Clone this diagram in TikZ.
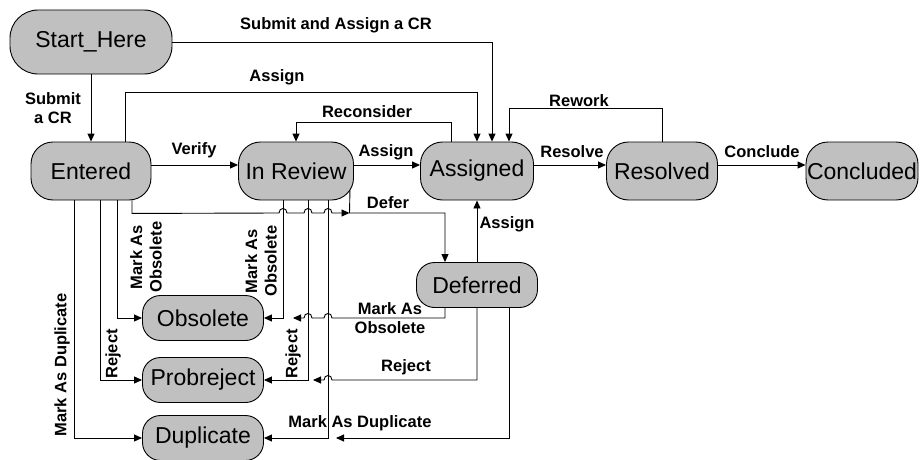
\documentclass[tikz,border=0pt]{standalone}
\usepackage{fontspec}
\setmainfont{Liberation Sans}
\usetikzlibrary{arrows.meta}
\definecolor{stategray}{RGB}{192,192,192}
% line jump over a crossing vertical line at (#1,#2), half width #3
\newcommand{\hop}[3]{-- ({#1-(#3)},#2) .. controls ({#1-(#3)},{#2-6}) and ({#1+(#3)},{#2-6}) .. ({#1+(#3)},#2)}
\begin{document}
\begin{tikzpicture}[x=1pt, y=-1pt, line width=0.9pt,
  >={Triangle[length=8pt,width=7pt]},
  state/.style={draw, fill=stategray, rounded corners=22pt, minimum height=58pt,
    inner sep=1pt, font=\fontsize{23}{27}\selectfont},
  small state/.style={state, rounded corners=18pt, minimum height=45pt, minimum width=121pt},
  lbl/.style={font=\fontsize{16.5}{19.5}\selectfont\bfseries, align=center, inner sep=0pt}]
\useasboundingbox (0,0) rectangle (920,460);

% states
\node[state, minimum width=162pt, minimum height=64pt, rounded corners=28pt] (start) at (91,42) {Start\_Here};
\foreach \nm/\x/\w/\txt in {entered/91/120/Entered, review/296/115/In Review,
    assigned/477/113/Assigned, resolved/662/111/Resolved, concluded/862/112/Concluded}
  \node[state, minimum width=\w pt] (\nm) at (\x,171) {\txt};
\node[small state] (deferred) at (477,285) {Deferred};
\foreach \nm/\y/\txt in {obsolete/318/Obsolete, probreject/380/Probreject, duplicate/438/Duplicate}
  \node[small state] (\nm) at (203,\y) {\txt};

% join points of merging arrows
\coordinate (deferjoin) at (349.5,213);
\coordinate (obsjoin) at (293,318);
\coordinate (rejjoin) at (313,380);
\coordinate (dupjoin) at (336,438);

% top row
\draw[->] (start) -- (entered);
\draw[->] (start.east) -| ([xshift=15pt]assigned.north);
\draw[->] ([xshift=34pt]entered.north) -- ++(0,-49) -| (assigned.north);
\draw[->] ([xshift=-26pt]assigned.north) -- ++(0,-19) -| (review.north);
\draw[->] (resolved.north) -- ++(0,-33) -| ([xshift=32pt]assigned.north);
\foreach \a/\b in {entered/review, review/assigned, assigned/resolved, resolved/concluded}
  \draw[->] ([yshift=6pt]\a.east) -- ([yshift=6pt]\b.west);
\draw[->] (deferred) -- (assigned);

% from Entered
\draw[->] ([xshift=-17pt]entered.south) |- (duplicate);
\draw[->] ([xshift=9pt]entered.south) |- (probreject);
\draw[->] ([xshift=26pt]entered.south) |- (obsolete);
\draw[->] ([xshift=41pt]entered.south) -- ++(0,13) \hop{283}{213}{4} \hop{308}{213}{4} \hop{328}{213}{4} -- (deferjoin);

% from In Review
\draw[->] ([xshift=-13pt]review.south) |- (obsolete);
\draw[->] ([xshift=12pt]review.south) |- (probreject);
\draw[->] ([xshift=32pt]review.south) |- (duplicate);
\draw[->] ([xshift=-4pt,yshift=10pt]review.south east) -- (deferjoin) -| ([xshift=-32pt]deferred.north);

% from Deferred
\draw[->] ([xshift=-32pt]deferred.south) -- (445,318) \hop{328}{318}{-4} \hop{308}{318}{-4} -- (obsjoin);
\draw[->] (deferred.south) -- (477,380) \hop{328}{380}{-4} -- (rejjoin);
\draw[->] ([xshift=32pt]deferred.south) |- (dupjoin);

% labels
\node[lbl] (lsubassign) at (336,25) {Submit and Assign a CR};
\node[lbl] (lassigntop) at (277,77) {Assign};
\node[lbl] (lsubmit) at (53,108) {Submit\\a CR};
\node[lbl] (lreconsider) at (367,112) {Reconsider};
\node[lbl] (lrework) at (579,101) {Rework};
\node[lbl] (lverify) at (194,150) {Verify};
\node[lbl] (lassign) at (386,152) {Assign};
\node[lbl] (lresolve) at (572,152) {Resolve};
\node[lbl] (lconclude) at (762,152) {Conclude};
\node[lbl] (lassigndef) at (507,224) {Assign};
\node[lbl] (ldefer) at (388,203) {Defer};
\node[lbl, rotate=90] (lentobs) at (146,257) {Mark As\\Obsolete};
\node[lbl, rotate=90] (lentrej) at (113,354) {Reject};
\node[lbl, rotate=90] (lentdup) at (62,365) {Mark As Duplicate};
\node[lbl, rotate=90] (lrevobs) at (261,261) {Mark As\\Obsolete};
\node[lbl, rotate=90] (lrevrej) at (293,354) {Reject};
\node[lbl] (ldefobs) at (390,318) {Mark As\\Obsolete};
\node[lbl] (ldefrej) at (406,367) {Reject};
\node[lbl] (ldup) at (360,423) {Mark As Duplicate};
\end{tikzpicture}
\end{document}
